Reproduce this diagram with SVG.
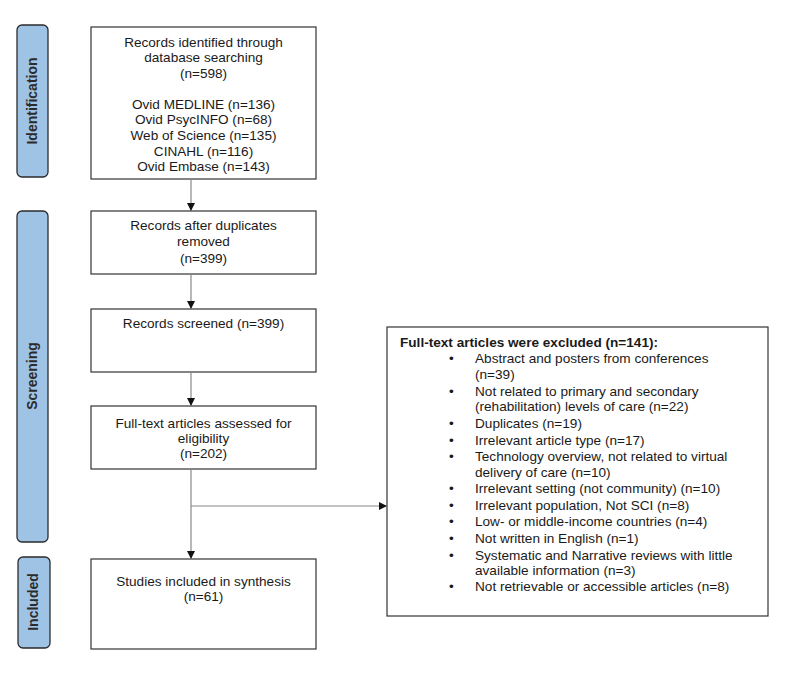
<svg xmlns="http://www.w3.org/2000/svg" width="800" height="675" viewBox="0 0 800 675">
<style>
.stage{fill:#9fc3e5;stroke:#2b2b2b;stroke-width:1.3}
.stlabel{font-family:"Liberation Sans",Arial,sans-serif;font-size:14px;font-weight:bold;fill:#2b2b2b;text-anchor:middle}
.box{fill:#fff;stroke:#333;stroke-width:1.2}
.t{font-family:"Liberation Sans",Arial,sans-serif;font-size:13.6px;fill:#1a1a1a;text-anchor:middle}
.l{font-family:"Liberation Sans",Arial,sans-serif;font-size:13.6px;fill:#1a1a1a}
.b{font-weight:bold}
.conn{stroke:#888;stroke-width:1.2;fill:none}
</style>
<defs>
<marker id="arr" viewBox="0 0 10 10" refX="10" refY="5" markerWidth="8" markerHeight="8" markerUnits="userSpaceOnUse" orient="auto">
<path d="M0,0 L10,5 L0,10 z" fill="#111"/>
</marker>
</defs>
<rect width="800" height="675" fill="#fff"/>

<g id="stage-identification">
<rect class="stage" x="17" y="25" width="31" height="152" rx="5"/>
<text class="stlabel" transform="translate(37,101) rotate(-90)">Identification</text>
</g>
<g id="stage-screening">
<rect class="stage" x="17" y="211" width="31" height="331" rx="5"/>
<text class="stlabel" transform="translate(37,376) rotate(-90)">Screening</text>
</g>
<g id="stage-included">
<rect class="stage" x="18" y="557" width="32" height="91" rx="5"/>
<text class="stlabel" transform="translate(38,602) rotate(-90)">Included</text>
</g>

<g id="identified">
<rect class="box" x="91" y="27" width="225" height="152"/>
<text class="t" x="203.5" y="47">Records identified through</text>
<text class="t" x="203.5" y="62">database searching</text>
<text class="t" x="203.5" y="78">(n=598)</text>
<text class="t" x="203.5" y="109">Ovid MEDLINE (n=136)</text>
<text class="t" x="203.5" y="124">Ovid PsycINFO (n=68)</text>
<text class="t" x="203.5" y="140">Web of Science (n=135)</text>
<text class="t" x="203.5" y="156">CINAHL (n=116)</text>
<text class="t" x="203.5" y="171">Ovid Embase (n=143)</text>
</g>

<g id="duplicates-removed">
<rect class="box" x="91" y="211" width="225" height="63"/>
<text class="t" x="203.5" y="230">Records after duplicates</text>
<text class="t" x="203.5" y="246">removed</text>
<text class="t" x="203.5" y="263">(n=399)</text>
</g>

<g id="screened">
<rect class="box" x="91" y="309" width="225" height="63"/>
<text class="t" x="203.5" y="328">Records screened (n=399)</text>
</g>

<g id="fulltext">
<rect class="box" x="91" y="406" width="225" height="63"/>
<text class="t" x="203.5" y="428">Full-text articles assessed for</text>
<text class="t" x="203.5" y="443">eligibility</text>
<text class="t" x="203.5" y="458">(n=202)</text>
</g>

<g id="included">
<rect class="box" x="91" y="559" width="225" height="90"/>
<text class="t" x="203.5" y="586">Studies included in synthesis</text>
<text class="t" x="203.5" y="601">(n=61)</text>
</g>

<g id="excluded">
<rect class="box" x="387" y="327" width="381" height="289"/>
<text class="l b" x="400" y="347">Full-text articles were excluded (n=141):</text>
<g class="l">
<text x="449" y="363">•</text><text x="475" y="363">Abstract and posters from conferences</text>
<text x="475" y="379">(n=39)</text>
<text x="449" y="396">•</text><text x="475" y="396">Not related to primary and secondary</text>
<text x="475" y="411">(rehabilitation) levels of care (n=22)</text>
<text x="449" y="428">•</text><text x="475" y="428">Duplicates (n=19)</text>
<text x="449" y="445">•</text><text x="475" y="445">Irrelevant article type (n=17)</text>
<text x="449" y="461">•</text><text x="475" y="461">Technology overview, not related to virtual</text>
<text x="475" y="477">delivery of care (n=10)</text>
<text x="449" y="493">•</text><text x="475" y="493">Irrelevant setting (not community) (n=10)</text>
<text x="449" y="510">•</text><text x="475" y="510">Irrelevant population, Not SCI (n=8)</text>
<text x="449" y="526">•</text><text x="475" y="526">Low- or middle-income countries (n=4)</text>
<text x="449" y="543">•</text><text x="475" y="543">Not written in English (n=1)</text>
<text x="449" y="560">•</text><text x="475" y="560">Systematic and Narrative reviews with little</text>
<text x="475" y="575">available information (n=3)</text>
<text x="449" y="591">•</text><text x="475" y="591">Not retrievable or accessible articles (n=8)</text>
</g>
</g>

<g id="connectors">
<line class="conn" x1="191" y1="179" x2="191" y2="211" marker-end="url(#arr)"/>
<line class="conn" x1="191" y1="274" x2="191" y2="309" marker-end="url(#arr)"/>
<line class="conn" x1="191" y1="372" x2="191" y2="406" marker-end="url(#arr)"/>
<line class="conn" x1="191" y1="469" x2="191" y2="559" marker-end="url(#arr)"/>
<line class="conn" x1="191" y1="506" x2="387" y2="506" marker-end="url(#arr)"/>
</g>
</svg>
